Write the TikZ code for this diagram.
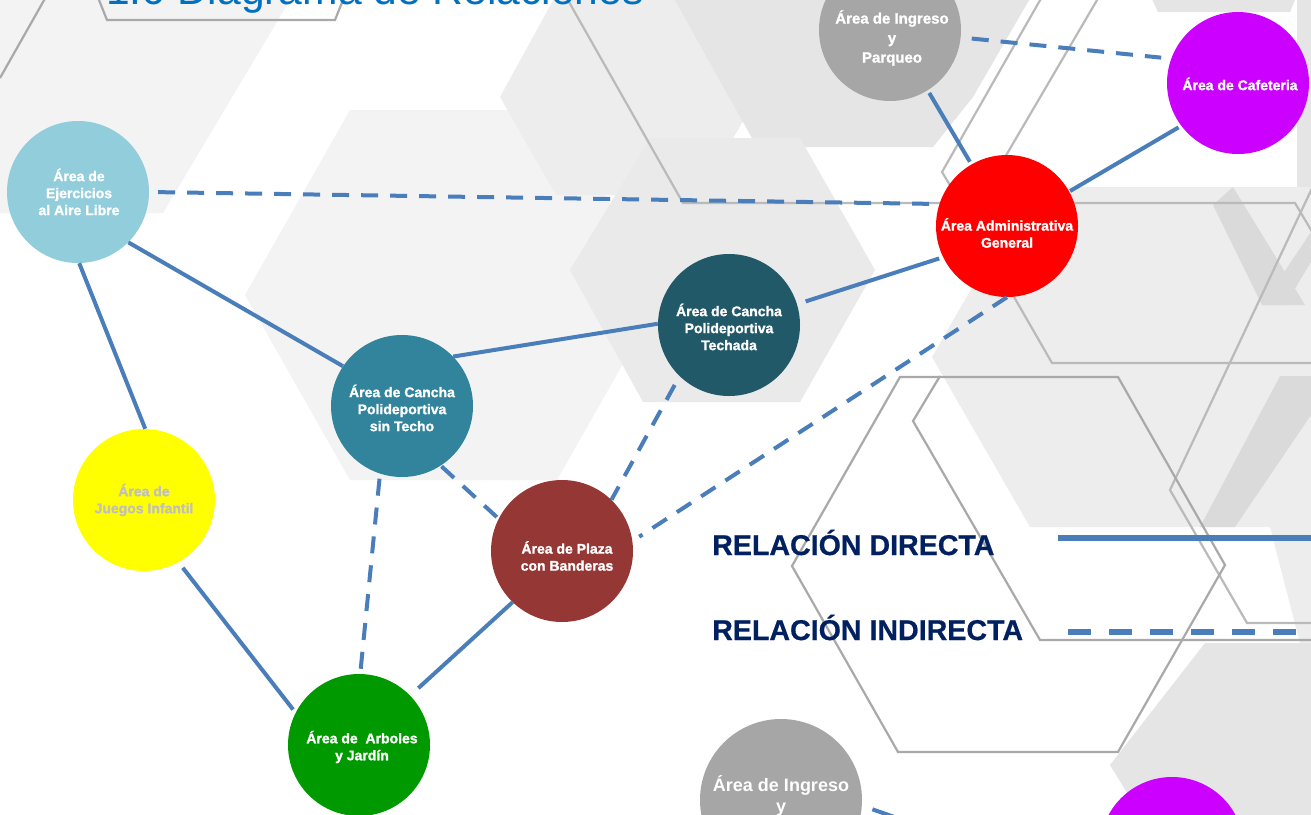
\documentclass[tikz,border=0pt]{standalone}
\usepackage{fontspec}
\setmainfont{Liberation Sans}
\newfontfamily\labelfont{Liberation Sans}[BoldFeatures={FakeBold=1.3}]
\newfontfamily\legendfont{Liberation Sans}[BoldFeatures={FakeBold=0.6}]
\definecolor{linkblue}{HTML}{4A7EBB}
\definecolor{titleblue}{HTML}{0070C0}
\definecolor{navy}{HTML}{002060}
\definecolor{hexgray}{HTML}{A9A9A9}
\definecolor{bgA}{HTML}{F3F3F3}
\definecolor{bgB}{HTML}{EDEDED}
\definecolor{bgC}{HTML}{E5E5E5}
\definecolor{bgD}{HTML}{DADADA}
\definecolor{cEjer}{HTML}{92CDDC}
\definecolor{cJuegos}{HTML}{FFFF00}
\definecolor{cSinTecho}{HTML}{31849B}
\definecolor{cTechada}{HTML}{215968}
\definecolor{cPlaza}{HTML}{953735}
\definecolor{cArboles}{HTML}{009900}
\definecolor{cAdmin}{HTML}{FF0000}
\definecolor{cIngreso}{HTML}{A6A6A6}
\definecolor{cCafe}{HTML}{CC00FF}
\definecolor{softtext}{HTML}{BFBFBF}
\begin{document}
\begin{tikzpicture}[x=1pt,y=-1pt,
  area/.style={circle, minimum size=142pt, inner sep=0pt, draw=none},
  lbl/.style={align=center, text=white, inner sep=0pt,
    font=\labelfont\fontsize{14pt}{17pt}\selectfont\bfseries},
  direct/.style={draw=linkblue, line width=4pt},
  indirect/.style={direct, dash pattern=on 17pt off 12pt},
  hexline/.style={draw=hexgray, line width=2.2pt, line join=miter},
  legend/.style={anchor=base west, text=navy, inner sep=0pt,
    font=\legendfont\fontsize{28.6pt}{34pt}\selectfont\bfseries}]

\useasboundingbox (0,0) rectangle (1311,814);
\clip (0,0) rectangle (1311,814);
\fill[white] (0,0) rectangle (1311,814);

% ---- background: pale hexagonal panels ----
\fill[bgA] (0,-5) -- (293,-5) -- (163,213) -- (0,213) -- cycle;
\fill[bgA] (350,110) -- (557,110) -- (662,295) -- (557,480) -- (350,480) -- (245,295) -- cycle;
\fill[bgB] (500,97) -- (556,-5) -- (700,-5) -- (757,97) -- (700,195) -- (556,195) -- cycle;
\fill[bgC] (672,-5) -- (1032,-5) -- (973,97) -- (933,147) -- (757,147) -- cycle;
\fill[bgC!80!white] (650,138) -- (800,138) -- (875,270) -- (800,402) -- (643,402) -- (570,270) -- cycle;
\fill[bgB] (1030,187) -- (1330,187) -- (1330,527) -- (1030,527) -- (932,357) -- cycle;
\fill[bgC] (1150,-5) -- (1158,12) -- (1290,12) -- (1297,-5) -- cycle;
\fill[bgC] (1297,-5) -- (1330,-5) -- (1330,187) -- (1297,187) -- cycle;
\fill[bgD] (1213,205) -- (1233,187) -- (1305,305) -- (1262,305) -- cycle;
\fill[bgD] (1311,232) -- (1311,262) -- (1285,305) -- (1262,305) -- cycle;
\fill[bgD] (1280,376) -- (1311,376) -- (1311,415) -- (1235,527) -- (1200,527) -- cycle;
\fill[bgC] (1205,643) -- (1330,643) -- (1330,830) -- (1150,830) -- (1110,765) -- cycle;
\fill[bgB] (1270,527) -- (1330,527) -- (1330,643) -- (1300,643) -- cycle;

% ---- background: hexagon outlines ----
\draw[hexline] (0,78) -- (47,-5);
\draw[hexline] (97,-5) -- (107,20) -- (335,20) -- (345,-5);
\draw[hexline, draw=hexgray!80] (565,-5) -- (683,203) -- (1295,203) -- (1330,262);
\draw[hexline, draw=hexgray!80] (1043,-5) -- (942,172) -- (962,205);
\draw[hexline, draw=hexgray!80] (1100,-5) -- (977,205);
\draw[hexline, draw=hexgray!80] (1006,283) -- (1052,363) -- (1330,363);
\draw[hexline, draw=hexgray!80] (1330,150) -- (1170,490) -- (1247,623) -- (1330,623);
\draw[hexline] (900,377) -- (1118,377) -- (1225,565) -- (1118,752) -- (898,752) -- (792,566) -- cycle;
\draw[hexline] (940,376) -- (913,421) -- (1040,640) -- (1330,640);

% ---- title ----
\node[anchor=base west, text=titleblue, inner sep=0pt,
  font=\fontsize{42.6pt}{50pt}\selectfont] (title) at (106,4) {1.6 Diagrama de Relaciones};

% ---- areas ----
\node[area, fill=cEjer]     (ejer)    at (78,192)  {};
\node[area, fill=cJuegos]   (juegos)  at (144,500) {};
\node[area, fill=cSinTecho] (sint)    at (402,406) {};
\node[area, fill=cTechada]  (tech)    at (729,325) {};
\node[area, fill=cPlaza]    (plaza)   at (562,551) {};
\node[area, fill=cArboles]  (arb)     at (359,745) {};
\node[area, fill=cAdmin]    (admin)   at (1007,226) {};
\node[area, fill=cIngreso]  (ingreso) at (890,30)  {};
\node[area, fill=cCafe]     (cafe)    at (1238,83) {};
\node[area, fill=cIngreso, minimum size=162pt] (ingreso2) at (781,800) {};
\node[area, fill=cCafe, minimum size=144pt]    (cafe2)    at (1172,849) {};
\coordinate (exit1) at (960,840);

% ---- labels ----
\node[lbl] (ejer-t)    at (79,192)   {Área de\\Ejercicios\\al Aire Libre};
\node[lbl, text=softtext] (juegos-t) at (144,500) {Área de\\Juegos Infantil};
\node[lbl] (sint-t)    at (402,408)  {Área de Cancha\\Polideportiva\\sin Techo};
\node[lbl] (tech-t)    at (729,327)  {Área de Cancha\\Polideportiva\\Techada};
\node[lbl] (plaza-t)   at (567,556)  {Área de Plaza\\con Banderas};
\node[lbl] (arb-t)     at (362,747)  {Área de~~Arboles\\y Jardín};
\node[lbl] (admin-t)   at (1007,233) {Área Administrativa\\General};
\node[lbl, font=\labelfont\fontsize{15pt}{19.5pt}\selectfont\bfseries] (ingreso-t) at (892,38) {Área de Ingreso\\y\\Parqueo};
\node[lbl] (cafe-t)    at (1240,84)  {Área de Cafeteria};
\node[lbl, font=\fontsize{18pt}{21pt}\selectfont\bfseries] (ingreso2-t) at (781,796) {Área de Ingreso\\y};

% ---- direct relations ----
\draw[direct] (ejer.-89) -- (juegos.89);
\draw[direct] (ejer.-45) -- (sint.146);
\draw[direct, shorten <=7pt, shorten >=4pt] (juegos.-61) -- (arb.153);
\draw[direct] (sint.44) -- (tech.179);
\draw[direct, shorten <=9pt, shorten >=4pt] (tech.17) -- (admin.-154);
\draw[direct, shorten <=3pt, shorten >=3pt] (ingreso.-58) -- (admin.120);
\draw[direct, shorten <=1pt, shorten >=3pt] (admin.29) -- (cafe.-143);
\draw[direct, shorten >=11pt] (plaza.-134) -- (arb.44);
\draw[direct, shorten <=11pt] (ingreso2.-4) -- (exit1);

% ---- indirect relations ----
\draw[indirect, shorten <=9pt, shorten >=5pt] (ejer.0) -- (admin.162);
\draw[indirect, shorten <=11pt, shorten >=10pt] (ingreso.-6) -- (cafe.160);
\draw[indirect, shorten <=1pt, shorten >=2pt] (sint.-57) -- (plaza.153);
\draw[indirect, shorten <=5pt, shorten >=4pt] (sint.-108) -- (arb.89);
\draw[indirect, shorten <=10pt] (tech.-134) -- (plaza.46);
\draw[indirect, shorten >=8pt] (admin.-90) -- (plaza.8);

% ---- legend ----
\node[legend] (leg-dir) at (712,555) {RELACIÓN DIRECTA};
\node[legend] (leg-ind) at (712,640) {RELACIÓN INDIRECTA};
\coordinate (ld1) at (1058,538);
\coordinate (ld2) at (1311,538);
\coordinate (li1) at (1068,632);
\coordinate (li2) at (1302,632);
\draw[direct, line width=6pt] (ld1) -- (ld2);
\draw[direct, line width=6pt, dash pattern=on 23pt off 18pt] (li1) -- (li2);
\end{tikzpicture}
\end{document}
